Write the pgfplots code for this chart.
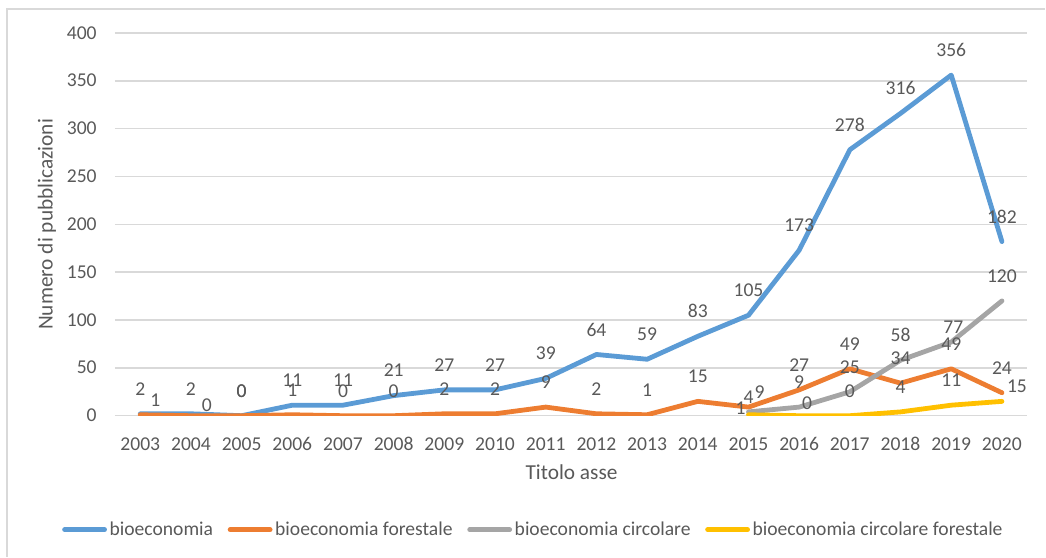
\documentclass[border=0pt]{standalone}
\usepackage{pgfplots}
\usepackage{pgfplotstable}
\pgfplotsset{compat=1.18}
\usepackage{fontspec}
\setmainfont{Carlito}
\definecolor{cblue}{RGB}{91,155,213}
\definecolor{corange}{RGB}{237,125,49}
\definecolor{cgray}{RGB}{165,165,165}
\definecolor{cyellow}{RGB}{255,192,0}
\definecolor{ctext}{RGB}{89,89,89}
\definecolor{cgrid}{RGB}{217,217,217}
\pgfplotstableread{
x y
2003 2
2004 2
2005 0
2006 11
2007 11
2008 21
2009 27
2010 27
2011 39
2012 64
2013 59
2014 83
2015 105
2016 173
2017 278
2018 316
2019 356
2020 182
}\tabbio
\pgfplotstableread{
x y
2003 1
2004 0
2005 0
2006 1
2007 0
2008 0
2009 2
2010 2
2011 9
2012 2
2013 1
2014 15
2015 9
2016 27
2017 49
2018 34
2019 49
2020 24
}\tabforest
\pgfplotstableread{
x y
2015 4
2016 9
2017 25
2018 58
2019 77
2020 120
}\tabcirc
\pgfplotstableread{
x y
2015 1
2016 0
2017 0
2018 4
2019 11
2020 15
}\tabcircfor
% labels: offset of label centre from the point, in reference pixels
\pgfplotsset{
  labs/.style 2 args={forget plot, draw=none, mark=none, nodes near coords,
    nodes near coords style={anchor=center, inner sep=0pt, xshift={0.75*#1}, yshift={0.75*#2},
      text=ctext, font=\fontsize{14.7}{17}\selectfont}},
}
\begin{document}
\begin{tikzpicture}
\begin{axis}[
  at={(0pt,0pt)}, anchor=south west,
  scale only axis, width=684.75pt, height=287.25pt,
  xmin=2002.5, xmax=2020.5, ymin=0, ymax=400,
  xtick={2003,...,2020}, ytick={0,50,...,400},
  /pgf/number format/1000 sep={},
  /pgf/number format/assume math mode=true,
  major tick length=0pt,
  axis line style={draw=none},
  ymajorgrids, major grid style={color=cgrid, line width=1.1pt},
  font=\fontsize{14.7}{17}\selectfont,
  tick label style={text=ctext, font=\fontsize{14.7}{17}\selectfont},
  xticklabel style={anchor=base, inner sep=0pt, yshift=-26pt},
  yticklabel style={anchor=base east, inner sep=0pt, xshift=-13.5pt, yshift=-4.6pt},
  xlabel={Titolo asse}, ylabel={Numero di pubblicazioni},
  xlabel style={at={(axis description cs:0.5005,-0.1488)}, anchor=center, text=ctext, font=\fontsize{16}{19}\selectfont},
  ylabel style={at={(axis description cs:-0.0745,0.5)}, anchor=center, text=ctext, font=\fontsize{16}{19}\selectfont},
  every axis plot/.append style={line width=3.6pt, line join=round, line cap=round, mark=none},
  legend columns=4,
  legend style={at={(axis description cs:0.459,-0.2977)}, anchor=center, draw=none, fill=none,
    font=\fontsize{14.7}{17}\selectfont, text=ctext,
    /tikz/every even column/.append style={column sep=9pt}},
  legend image code/.code={\draw[#1, line width=3.6pt, line cap=round] (0pt,0pt) -- (30pt,0pt);},
]
\addplot[color=cblue] table[x=x, y=y] {\tabbio};
\addlegendentry{bioeconomia}
\addplot[color=corange] table[x=x, y=y] {\tabforest};
\addlegendentry{bioeconomia forestale}
\addplot[color=cgray] table[x=x, y=y] {\tabcirc};
\addlegendentry{bioeconomia circolare}
\addplot[color=cyellow] table[x=x, y=y] {\tabcircfor};
\addlegendentry{bioeconomia circolare forestale}
% data labels
\addplot[labs={0}{25}] table[x=x, y=y] {\tabbio};
\addplot[labs={0}{25}, skip coords between index={0}{2}, skip coords between index={12}{13}] table[x=x, y=y] {\tabforest};
\addplot[labs={15}{15}, skip coords between index={1}{18}] table[x=x, y=y] {\tabforest};
\addplot[labs={16}{11}, skip coords between index={0}{1}, skip coords between index={2}{18}] table[x=x, y=y] {\tabforest};
\addplot[labs={11}{15}, skip coords between index={0}{12}, skip coords between index={13}{18}] table[x=x, y=y] {\tabforest};
\addplot[labs={0}{25}, skip coords between index={0}{1}, skip coords between index={4}{5}] table[x=x, y=y] {\tabcirc};
\addplot[labs={0}{15}, skip coords between index={1}{6}] table[x=x, y=y] {\tabcirc};
\addplot[labs={2}{15}, skip coords between index={0}{4}, skip coords between index={5}{6}] table[x=x, y=y] {\tabcirc};
\addplot[labs={0}{25}, skip coords between index={0}{2}, skip coords between index={5}{6}] table[x=x, y=y] {\tabcircfor};
\addplot[labs={-8}{7}, skip coords between index={1}{6}] table[x=x, y=y] {\tabcircfor};
\addplot[labs={8}{13}, skip coords between index={0}{1}, skip coords between index={2}{6}] table[x=x, y=y] {\tabcircfor};
\addplot[labs={15}{15}, skip coords between index={0}{5}] table[x=x, y=y] {\tabcircfor};
\end{axis}
\draw[cgrid, line width=1.1pt] (-81pt,-105.75pt) -- (-81pt,305.25pt) -- (698.25pt,305.25pt);
\useasboundingbox (-86.25pt,-105.75pt) rectangle (698.25pt,312pt);
\end{tikzpicture}
\end{document}
